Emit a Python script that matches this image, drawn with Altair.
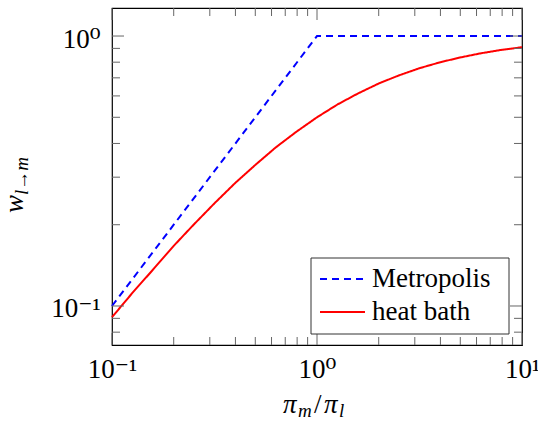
import altair as alt
import pandas as pd

# ---- data ----
series_names = ["Metropolis", "heat bath"]

metro_x = [0.1, 1.0, 10.0]
metro_y = [0.1, 1.0, 1.0]

heat_x = [0.1, 0.126, 0.158, 0.2, 0.25, 0.316, 0.4, 0.5, 0.63, 0.79, 1.0,
          1.26, 1.58, 2.0, 2.5, 3.16, 4.0, 5.0, 6.3, 7.9, 10.0]
heat_y = [0.0909, 0.112, 0.136, 0.167, 0.2, 0.24, 0.286, 0.333, 0.387, 0.441, 0.5,
          0.558, 0.612, 0.667, 0.714, 0.76, 0.8, 0.833, 0.863, 0.888, 0.909]

x_major = [0.1, 1.0, 10.0]
y_major = [0.1, 1.0]
x_minor = [0.2, 0.3, 0.4, 0.5, 0.6, 0.7, 0.8, 0.9, 2, 3, 4, 5, 6, 7, 8, 9]
y_minor = [0.08, 0.09, 0.2, 0.3, 0.4, 0.5, 0.6, 0.7, 0.8, 0.9]

x_domain = [0.1, 10.0]
y_domain = [0.0717, 1.27]

FONT = "Liberation Serif, DejaVu Serif"
FS = 27
W, H = 410, 337

lines_df = pd.concat([
    pd.DataFrame({"x": metro_x, "y": metro_y, "series": series_names[0], "order": range(len(metro_x))}),
    pd.DataFrame({"x": heat_x, "y": heat_y, "series": series_names[1], "order": range(len(heat_x))}),
])

xs = alt.Scale(type="log", domain=x_domain, nice=False, zero=False)
ys = alt.Scale(type="log", domain=y_domain, nice=False, zero=False)
colors = ["#0000ff", "#ff0000"]
dashes = [[7, 5], [1, 0]]
color_scale = alt.Scale(domain=series_names, range=colors)
dash_scale = alt.Scale(domain=series_names, range=dashes)

label_expr_x = "datum.value < 0.5 ? '10⁻¹' : (datum.value < 5 ? '10⁰' : '10¹')"
label_expr_y = "datum.value < 0.5 ? '10⁻¹' : '10⁰'"

lines = alt.Chart(lines_df).mark_line(strokeWidth=2).encode(
    x=alt.X("x:Q", scale=xs,
            axis=alt.Axis(values=x_major, labelExpr=label_expr_x, tickSize=0, domain=False,
                          grid=False, title=None, labelFont=FONT, labelFontSize=FS,
                          labelColor="black", labelPadding=11, labelFlush=False,
                          labelOverlap=False)),
    y=alt.Y("y:Q", scale=ys,
            axis=alt.Axis(values=y_major, labelExpr=label_expr_y, tickSize=0, domain=False,
                          grid=False, title=None, labelFont=FONT, labelFontSize=FS,
                          labelColor="black", labelPadding=12, labelOffset=3,
                          labelOverlap=False)),
    color=alt.Color("series:N", scale=color_scale, legend=None),
    strokeDash=alt.StrokeDash("series:N", scale=dash_scale, legend=None),
    order="order:Q",
)

TICK = "#666666"
xmaj_df = pd.DataFrame({"x": x_major})
xmin_df = pd.DataFrame({"x": x_minor})
ymaj_df = pd.DataFrame({"y": y_major})
ymin_df = pd.DataFrame({"y": y_minor})

def xticks(df, length):
    bottom = alt.Chart(df).mark_rule(color=TICK, strokeWidth=1).encode(
        x=alt.X("x:Q", scale=xs), y=alt.value(H), y2=alt.value(H - length))
    top = alt.Chart(df).mark_rule(color=TICK, strokeWidth=1).encode(
        x=alt.X("x:Q", scale=xs), y=alt.value(0), y2=alt.value(length))
    return [bottom, top]

def yticks(df, length):
    left = alt.Chart(df).mark_rule(color=TICK, strokeWidth=1).encode(
        y=alt.Y("y:Q", scale=ys), x=alt.value(0), x2=alt.value(length))
    right = alt.Chart(df).mark_rule(color=TICK, strokeWidth=1).encode(
        y=alt.Y("y:Q", scale=ys), x=alt.value(W), x2=alt.value(W - length))
    return [left, right]

ticks = xticks(xmaj_df, 12) + xticks(xmin_df, 8) + yticks(ymaj_df, 12) + yticks(ymin_df, 8)

one = pd.DataFrame({"a": [0]})

# legend
leg_box = alt.Chart(one).mark_rect(fill="white", stroke="#333333", strokeWidth=1).encode(
    x=alt.value(199), x2=alt.value(397), y=alt.value(250), y2=alt.value(326))
leg_df = pd.DataFrame({"series": series_names})
leg_rows = [271, 304]
legend_layers = []
for i, name in enumerate(series_names):
    legend_layers.append(
        alt.Chart(leg_df).transform_filter(alt.datum.series == name).mark_rule(
            strokeWidth=2, color=colors[i], strokeDash=dashes[i]).encode(
            x=alt.value(208), x2=alt.value(253), y=alt.value(leg_rows[i]))
    )
    legend_layers.append(
        alt.Chart(leg_df).transform_filter(alt.datum.series == name).mark_text(
            align="left", baseline="alphabetic", font=FONT, fontSize=FS, color="black").encode(
            x=alt.value(260), y=alt.value(leg_rows[i] + 8), text="series:N")
    )

# axis titles (with sub-scripts)
def txt(s, x, y, size=FS, style="italic", angle=0, align="center", baseline="alphabetic"):
    return alt.Chart(one).mark_text(text=s, font=FONT, fontSize=size, fontStyle=style,
                                    color="black", angle=angle, align=align,
                                    baseline=baseline).encode(
        x=alt.value(x), y=alt.value(y))

SUB = 19
xtitle = [
    txt("π", 171, 405, FS, "italic", 0, "left"),
    txt("m", 186, 409, SUB, "italic", 0, "left"),
    txt("/", 202, 405, FS, "normal", 0, "left"),
    txt("π", 212, 405, FS, "italic", 0, "left"),
    txt("l", 227, 409, SUB, "italic", 0, "left"),
]
ytitle = [
    txt("w", -89, 205, FS, "italic", 270, "left"),
    txt("l→m", -84, 187, SUB, "italic", 270, "left"),
]

chart = alt.layer(lines, *ticks, leg_box, *legend_layers, *xtitle, *ytitle).properties(
    width=W, height=H,
    padding={"left": 112, "top": 8, "right": 16, "bottom": 78},
    autosize=alt.AutoSizeParams(type="none"),
    background="white",
).configure_view(stroke="black", strokeWidth=1.2)

chart.save("out.html", embed_options={"renderer": "svg", "actions": False})
